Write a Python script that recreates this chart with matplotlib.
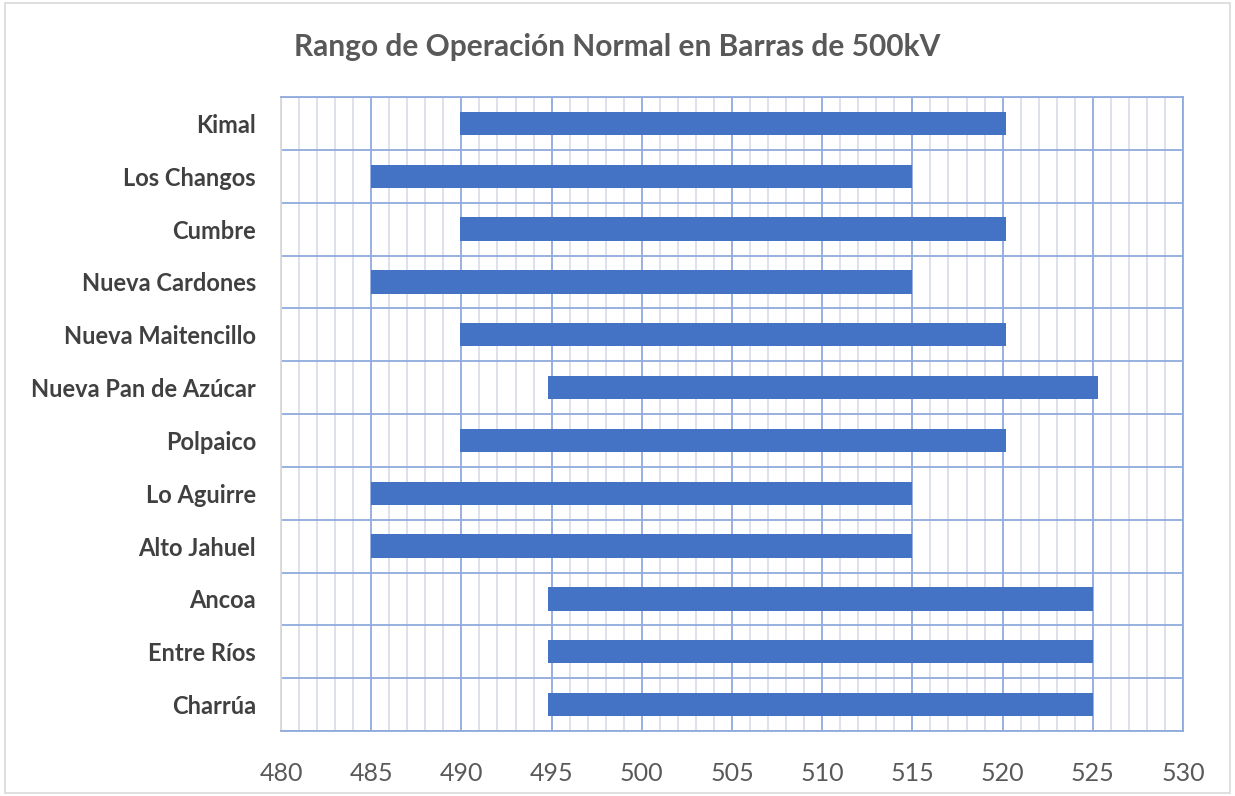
#!/usr/bin/env python3

from matplotlib import pyplot as plt
from matplotlib.patches import Rectangle
from matplotlib.ticker import MultipleLocator

barras = ["Kimal", "Los Changos", "Cumbre", "Nueva Cardones", "Nueva Maitencillo",
          "Nueva Pan de Azúcar", "Polpaico", "Lo Aguirre", "Alto Jahuel",
          "Ancoa", "Entre Ríos", "Charrúa"]
v_min = [489.9, 485.0, 489.9, 485.0, 489.9, 494.8, 489.9, 485.0, 485.0, 494.8, 494.8, 494.8]
v_max = [520.2, 515.0, 520.2, 515.0, 520.2, 525.3, 520.2, 515.0, 515.0, 525.0, 525.0, 525.0]


def main():
    plt.rcParams['font.family'] = ['Lato', 'DejaVu Sans']
    fig = plt.figure(figsize=(12.35, 7.96), dpi=100)
    ax = fig.add_axes([281 / 1235, 1 - 731 / 796, (1183 - 281) / 1235, (731 - 97) / 796])

    n = len(barras)
    pos = list(range(n))
    widths = [b - a for a, b in zip(v_min, v_max)]
    ax.barh(pos, widths, left=v_min, height=0.44, color="#4472c4", zorder=3)

    ax.set_xlim(480, 530)
    ax.set_ylim(n - 0.5, -0.5)
    ax.xaxis.set_major_locator(MultipleLocator(5))
    ax.xaxis.set_minor_locator(MultipleLocator(1))
    ax.set_yticks(pos)
    ax.set_yticklabels(barras, fontsize=17, fontweight="bold", color="#404040")
    ax.set_yticks([p + 0.5 for p in range(-1, n)], minor=True)

    ax.grid(True, which="minor", axis="x", color="#d6dbe7", linewidth=1.2, zorder=0)
    ax.grid(True, which="major", axis="x", color="#8faadc", linewidth=1.3, zorder=1)
    ax.grid(True, which="minor", axis="y", color="#8faadc", linewidth=1.3, zorder=1)
    ax.tick_params(which="both", length=0)
    ax.tick_params(axis="x", labelsize=18, labelcolor="#595959", pad=22)
    ax.tick_params(axis="y", pad=18)

    for s in ["top", "right", "bottom"]:
        ax.spines[s].set_color("#8faadc")
        ax.spines[s].set_linewidth(1.3)
    ax.spines["left"].set_color("#d9d9d9")
    ax.spines["left"].set_linewidth(1.3)

    fig.text(0.5, 1 - 47 / 796, "Rango de Operación Normal en Barras de 500kV",
             ha="center", va="center", fontsize=21.5, fontweight="bold", color="#595959")
    fig.patches.append(Rectangle((0.004, 0.004), 0.992, 0.992, transform=fig.transFigure,
                                 fill=False, edgecolor="#d9d9d9", linewidth=1.2))

    fig.savefig("out.png", dpi=100)


if __name__ == "__main__":
    main()
